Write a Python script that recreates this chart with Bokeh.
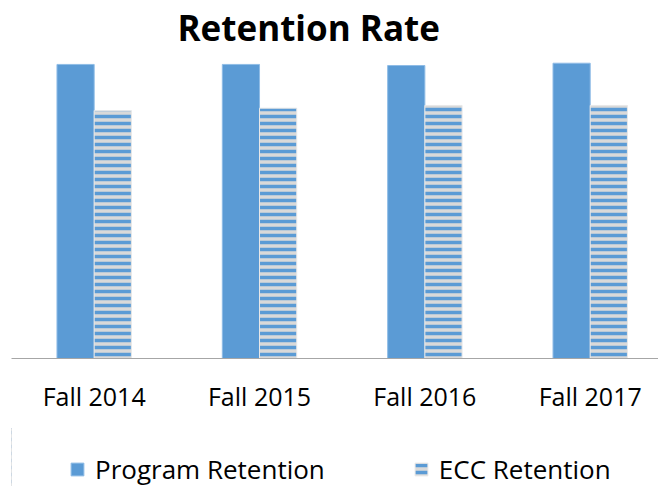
from bokeh.plotting import figure
from bokeh.layouts import column
from bokeh.models import Range1d, FixedTicker, Legend, LegendItem, ColumnDataSource
from bokeh.embed import file_html
from bokeh.resources import INLINE

categories = ["Fall 2014", "Fall 2015", "Fall 2016", "Fall 2017"]
program_retention = [96.1, 96.1, 95.75, 96.5]
ecc_retention = [81.0, 81.8, 82.7, 82.7]
series_names = ["Program Retention", "ECC Retention"]

xs = [i + 0.5 for i in range(len(categories))]
bw = 0.225
src = ColumnDataSource(dict(
    x_prog=[x - bw / 2 for x in xs],
    x_ecc=[x + bw / 2 for x in xs],
    prog=program_retention,
    ecc=ecc_retention,
))

prog_style = dict(fill_color="#5B9BD5", line_color="#8FBCE6", line_width=1)
ecc_style = dict(fill_color="#D9D9D9", hatch_pattern="horizontal_line", hatch_color="#5B9BD5",
                 hatch_scale=7, hatch_weight=3.5, line_color="#E8E8E8", line_width=1)

p = figure(frame_width=647, frame_height=306, output_backend="svg", toolbar_location=None,
           x_range=Range1d(0, 3.913), y_range=Range1d(0, 100),
           min_border_left=11, min_border_right=0, min_border_top=0, min_border_bottom=70)
p.title.text = "Retention Rate"
p.title.text_font = "Open Sans"
p.title.text_font_style = "bold"
p.title.text_font_size = "35px"
p.title.align = "left"
p.title.offset = 166
p.title.standoff = 3
p.title.text_color = "#000000"

p.vbar(x="x_prog", top="prog", width=bw, source=src, **prog_style)
p.vbar(x="x_ecc", top="ecc", width=bw, source=src, **ecc_style)

p.yaxis.visible = False
p.xaxis.ticker = FixedTicker(ticks=xs)
p.xaxis.major_label_overrides = {x: c for x, c in zip(xs, categories)}
p.xaxis.major_tick_line_color = None
p.xaxis.minor_tick_line_color = None
p.xaxis.axis_line_color = "#A6A6A6"
p.xaxis.major_label_text_font = "Open Sans"
p.xaxis.major_label_text_font_size = "25px"
p.xaxis.major_label_text_color = "#000000"
p.xaxis.major_label_standoff = 14
p.xgrid.visible = False
p.ygrid.visible = False
p.outline_line_color = None

# legend strip (proxy renderers share the data but lie outside this strip's view)
q = figure(width=658, height=59, output_backend="svg", toolbar_location=None,
           x_range=Range1d(50, 51), y_range=Range1d(0, 1),
           min_border_left=0, min_border_right=0, min_border_top=0, min_border_bottom=0)
q.axis.visible = False
q.grid.visible = False
q.outline_line_color = None
lr1 = q.vbar(x="x_prog", top="prog", width=bw, source=src, **prog_style)
lr2 = q.vbar(x="x_ecc", top="ecc", width=bw, source=src, **ecc_style)
legend = Legend(items=[LegendItem(label=series_names[0], renderers=[lr1], index=0),
                       LegendItem(label=series_names[1], renderers=[lr2], index=0)],
                orientation="horizontal", location=(58, 0), spacing=88,
                label_text_font="Open Sans", label_text_font_size="26px",
                label_text_color="#000000", glyph_width=16, glyph_height=16,
                label_standoff=10, background_fill_alpha=0,
                border_line_color=None, margin=0, padding=0)
q.add_layout(legend, "center")

layout = column(p, q, spacing=0)
open("out.html", "w").write(file_html(layout, INLINE))
